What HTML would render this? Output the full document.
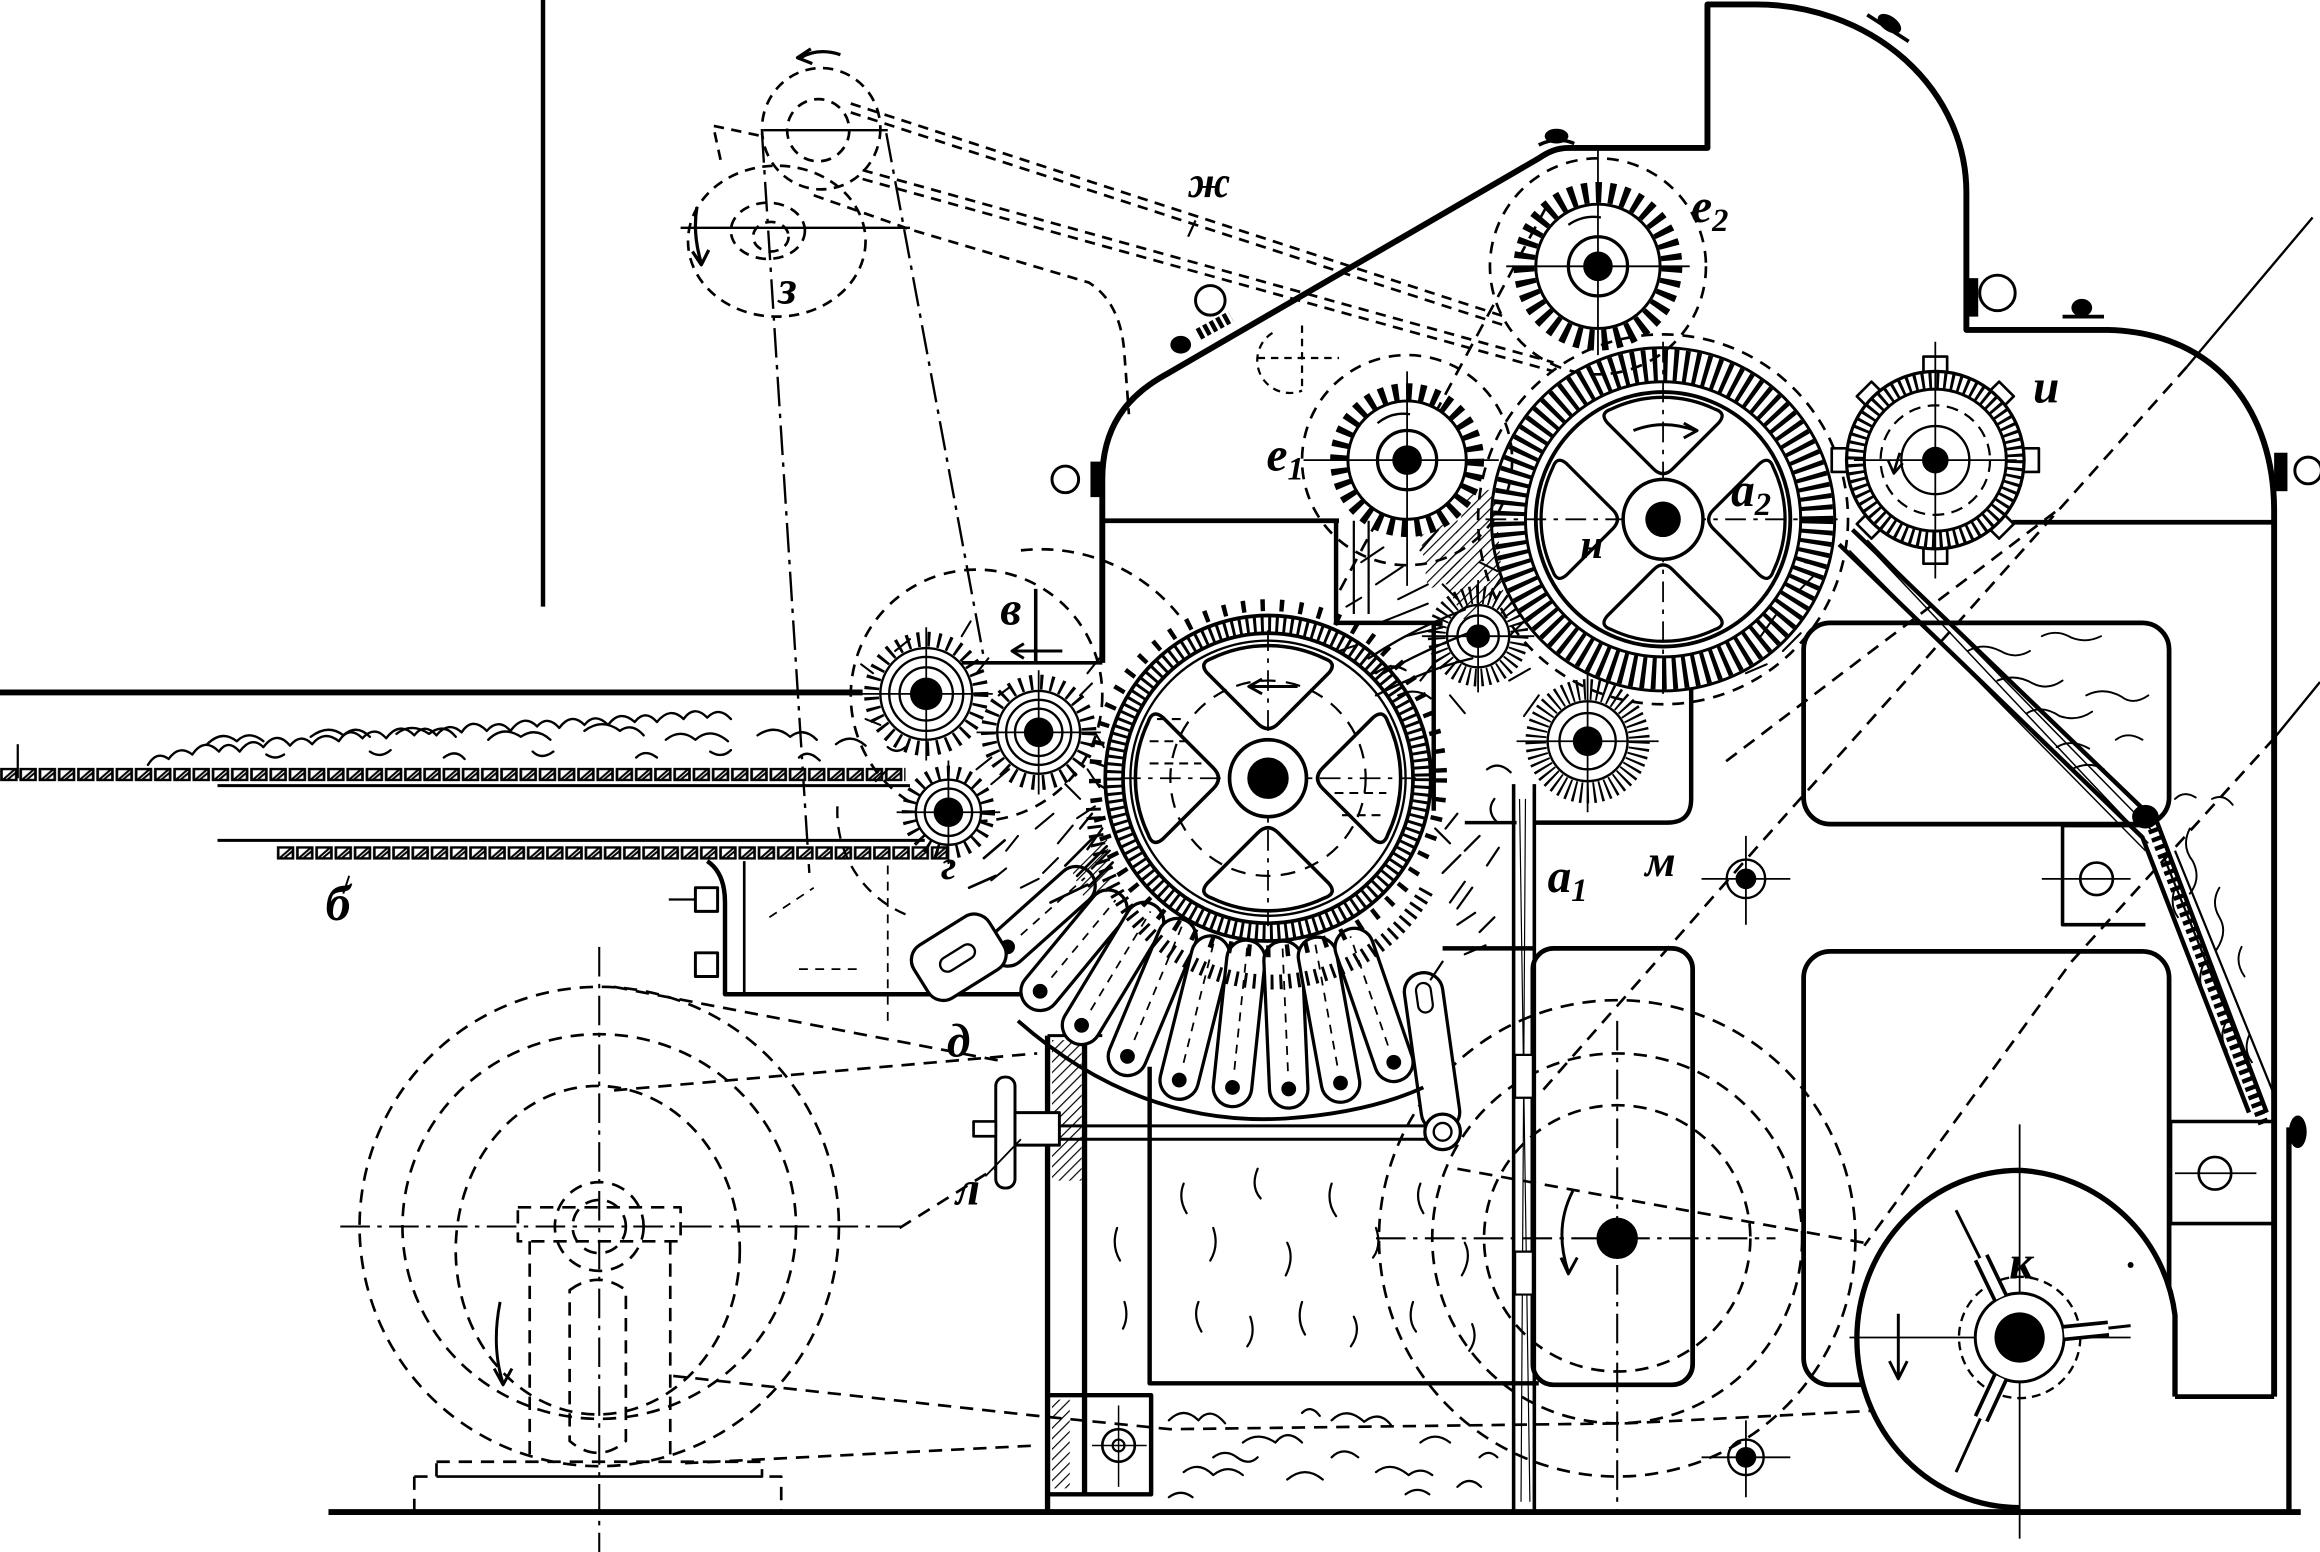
<!DOCTYPE html>
<html><head><meta charset="utf-8"><style>html,body{margin:0;padding:0;background:#fff}svg{display:block}</style></head>
<body>
<svg width="2320" height="1552" viewBox="0 0 1568 1049" preserveAspectRatio="none" xmlns="http://www.w3.org/2000/svg">
<defs>
<pattern id="lat" width="13" height="9" patternUnits="userSpaceOnUse"><rect x="1" y="0.7" width="10" height="7.6" fill="#fff" stroke="#000" stroke-width="1.8"/><path d="M2,8 L10,1 M5,8 L11,3" stroke="#000" stroke-width="1.4"/></pattern>
<pattern id="hat" width="5" height="5" patternUnits="userSpaceOnUse" patternTransform="rotate(45)"><line x1="0" y1="0" x2="0" y2="5" stroke="#000" stroke-width="1.6"/></pattern>
<path id="win" d="M-7,-37 L-41,-71 Q-47,-78 -38,-81 A88 88 0 0 1 38,-81 Q47,-78 41,-71 L7,-37 Q0,-30 -7,-37 Z"/>
</defs>
<rect width="1568" height="1049" fill="#fff"/>
<g fill="none" stroke="#000" stroke-linecap="butt" stroke-linejoin="round">

<!-- top-left vertical -->
<path d="M367,0 V410" stroke-width="3"/>

<!-- top-left pulleys -->
<g stroke-width="1.8" stroke-dasharray="7 5">
<ellipse cx="555" cy="87" rx="40" ry="41"/>
<circle cx="553" cy="88" r="21"/>
<ellipse cx="525" cy="163" rx="60" ry="51"/>
<ellipse cx="519" cy="156" rx="25" ry="19"/>
<ellipse cx="521" cy="160" rx="12" ry="10"/>
<path d="M487,108 L482,85 L515,92"/>
<path d="M550,132 L615,155 L736,191 Q758,205 760,240 L763,280"/>
<path d="M575,70 L1020,215 M575,76 L1020,221"/>
<path d="M583,115 L1050,245 M583,121 L1050,251"/>
</g>
<path d="M516,88 H600 M460,154 H615" stroke-width="1.6"/>
<path d="M515,90 L547,590 M599,90 L665,445" stroke-width="1.6" stroke-dasharray="20 5 3 5"/>
<path d="M568,37 Q553,32 541,39 M548,33 L539,39 L549,43" stroke-width="2.2"/>
<path d="M471,140 Q468,158 474,178 M468,170 L474,179 L479,169" stroke-width="2.2"/>
<path d="M808,149 L803,160" stroke-width="1.5"/>

<!-- feed table -->
<path d="M0,468 H583" stroke-width="4"/>
<g transform="translate(0,519)"><rect width="612" height="9" fill="url(#lat)" stroke="none"/></g>
<g transform="translate(187,572)"><rect width="455" height="9" fill="url(#lat)" stroke="none"/></g>
<path d="M147,531 H615 M147,568 H625" stroke-width="2"/>
<path d="M12,503 V526" stroke-width="1.5"/>
<path d="M236,592 L232,604" stroke-width="1.3"/>
<!-- cotton -->
<g stroke-width="1.6" stroke-linecap="round">
<path d="M100,517 q6,-10 14,-4 q7,-10 16,-3 q8,-12 18,-2 q6,-9 14,0 q8,-11 16,-3 q9,-12 18,-1 q7,-9 15,-1 q8,-10 18,-2 q7,-11 16,-2 q8,-9 16,0 q9,-12 19,-2 q7,-9 15,0 q8,-10 17,-2 q7,-11 17,-1 q8,-9 16,0 q9,-12 18,-3 q7,-8 15,1 q8,-11 17,-2 q7,-9 16,0 q8,-11 18,-2 q7,-9 15,0 q9,-11 18,-2 q7,-10 16,-1 q8,-8 16,1"/>
<path d="M140,503 q10,-10 20,-2 q8,-8 18,0 M210,498 q12,-9 22,-1 q9,-8 18,1 M268,496 q10,-8 22,0 q10,-8 18,2 M330,500 q10,-10 22,-2 q10,-7 20,2 M395,494 q12,-9 24,0 q8,-6 16,3 M450,500 q10,-8 20,0 q10,-9 22,1 M512,497 q12,-8 22,1 q9,-7 18,2 M565,503 q10,-8 20,1"/>
<path d="M180,510 q6,4 12,0 M250,508 q7,5 14,-1 M300,512 q8,-6 14,1 M360,508 q6,6 14,0 M430,512 q6,-6 14,0 M480,508 q8,5 14,-1 M540,512 q6,-6 14,2 M600,505 q6,5 12,0"/>
</g>

<!-- box under feed -->
<path d="M478,582 Q490,590 490,610 V672 H700" stroke-width="3"/>
<path d="M503,582 V672" stroke-width="1.8"/>
<rect x="470" y="600" width="15" height="16" stroke-width="2"/>
<rect x="470" y="644" width="15" height="16" stroke-width="2"/>
<path d="M452,608 H470" stroke-width="1.5"/>
<path d="M520,620 L550,600 M540,655 H580 M600,585 V690" stroke-width="1.2" stroke-dasharray="6 5"/>

<!-- motor wheel -->
<g stroke-width="1.8" stroke-dasharray="9 6">
<circle cx="405" cy="829" r="162"/>
<ellipse cx="405" cy="829" rx="133" ry="130"/>
<ellipse cx="404" cy="845" rx="96" ry="111"/>
<circle cx="405" cy="829" r="30"/>
<circle cx="405" cy="829" r="18"/>
<path d="M350,816 H460 V839 H350 Z M358,839 V986 M453,839 V986 M385,872 Q404,858 423,872 V974 Q404,990 385,974 Z M295,988 H515 V998 H295 Z M280,998 H528 V1022 M280,998 V1022"/>
<path d="M455,930 L701,957 L791,966 L1100,962 L1335,950 M463,989 L701,977"/>
<path d="M415,667 L676,717 M415,737 L701,712 M608,830 L672,790"/>
</g>
<path d="M230,829 H610 M405,640 V1049" stroke-width="1.4" stroke-dasharray="20 5 3 5"/>
<path d="M338,880 Q332,910 340,935 M334,925 L340,936 L346,925" stroke-width="2"/>

<!-- floor -->
<path d="M222,1022 H1555" stroke-width="4"/>

<!-- bottom middle wheel -->
<g stroke-width="1.8" stroke-dasharray="9 6">
<circle cx="1093" cy="837" r="161"/>
<circle cx="1093" cy="837" r="125"/>
<circle cx="1093" cy="837" r="90"/>
<path d="M985,790 L1260,840 M1478,248 L1188,572 L1040,740 M1537,499 L1400,650 L1260,842 M1389,346 L1162,518 M1045,140 L905,400"/>
</g>
<path d="M930,837 H1200 M1093,690 V1022" stroke-width="1.4" stroke-dasharray="20 5 3 5"/>
<circle cx="1093" cy="837" r="14" fill="#000" stroke="none"/>
<path d="M1063,805 Q1050,830 1060,860 M1055,850 L1060,861 L1066,850" stroke-width="2"/>
<path d="M1563,147 L1478,248 M1568,461 L1537,499" stroke-width="1.6"/>

<!-- housing -->
<path d="M745,448 V324 C745,290 760,268 790,252 L1040,107 C1046,103 1052,100 1060,100 H1154 V3 H1187 A142 127 0 0 1 1329,130 V223 H1425 C1500,225 1537,280 1537,345 V944" stroke-width="4"/>
<path d="M745,352 H905 M1360,353 H1537" stroke-width="3.2"/>
<path d="M650,448 H745 M700,398 V448" stroke-width="2.4"/>
<path d="M903,352 V421 H975 M969,421 V548" stroke-width="3"/>
<path d="M915,352 V415 M925,352 V415" stroke-width="1.5"/>
<path d="M1143,458 V540 Q1143,556 1127,556 H1037" stroke-width="3"/>
<path d="M990,556 H1025" stroke-width="2.4"/>
<rect x="1219" y="421" width="247" height="136" rx="18" stroke-width="3.2"/>
<rect x="1219" y="643" width="247" height="293" rx="18" stroke-width="3.2"/>
<rect x="1036" y="641" width="108" height="295" rx="14" stroke-width="3.2"/>
<path d="M975,641 H1036" stroke-width="3"/>
<path d="M777,721 V935 H1040" stroke-width="3"/>
<!-- post a1 -->
<path d="M1023,530 V1022 M1037,530 V1022" stroke-width="2.4"/>
<path d="M1027,540 L1034,1015 M1031,540 L1028,1015" stroke-width="0.8"/>
<rect x="1024" y="713" width="12" height="29" fill="#fff" stroke-width="1.5"/>
<rect x="1024" y="846" width="12" height="29" fill="#fff" stroke-width="1.5"/>
<circle cx="1180" cy="594" r="13" stroke-width="1.6"/><circle cx="1180" cy="594" r="7" fill="#000" stroke="none"/>
<path d="M1150,594 H1210 M1180,565 V625" stroke-width="1.2"/>
<circle cx="1180" cy="985" r="12" stroke-width="1.6"/><circle cx="1180" cy="985" r="7" fill="#000" stroke="none"/>
<path d="M1150,985 H1210 M1180,960 V1012" stroke-width="1.2"/>

<!-- lower-left frame -->
<path d="M708,700 V1022" stroke-width="3.6"/>
<path d="M733,700 V1010" stroke-width="3.6"/>
<path d="M708,700 H745" stroke-width="2"/>
<rect x="711" y="703" width="20" height="95" fill="url(#hat)" stroke="none"/>
<rect x="708" y="943" width="70" height="67" stroke-width="3"/>
<rect x="711" y="946" width="12" height="60" fill="url(#hat)" stroke="none"/>
<circle cx="756" cy="977" r="11" stroke-width="1.8"/><circle cx="756" cy="977" r="4" stroke-width="1.5"/>
<path d="M756,950 V1005 M738,977 H775" stroke-width="1"/>

<!-- rod + handwheel -->
<path d="M716,761 H968 M716,770 H968" stroke-width="2"/>
<rect x="673" y="728" width="13" height="75" rx="6" fill="#fff" stroke-width="2"/>
<rect x="686" y="752" width="30" height="22" fill="#fff" stroke-width="2"/>
<rect x="658" y="758" width="15" height="10" fill="#fff" stroke-width="1.8"/>
<path d="M666,795 L690,770" stroke-width="1.2"/>

<!-- right side -->
<path d="M1547,762 V1022" stroke-width="3.6"/>
<rect x="1467" y="758" width="70" height="69" stroke-width="2.4"/>
<circle cx="1497" cy="793" r="11" stroke-width="1.8"/>
<path d="M1470,793 H1525" stroke-width="1.2"/>
<path d="M1450,558 H1394 V625 H1450" stroke-width="2.4"/>
<circle cx="1417" cy="594" r="11" stroke-width="1.8"/>
<path d="M1380,594 H1440" stroke-width="1.2"/>
<!-- chute -->
<path d="M1243,368 L1448,566 L1520,752 M1252,358 L1458,556 L1532,752" stroke-width="3"/>
<path d="M1250,372 L1450,575 M1262,365 L1455,562 M1256,362 L1452,570" stroke-width="1"/>
<path d="M1462,578 L1532,752 M1470,575 L1537,740" stroke-width="1.5"/>
<path d="M1455,560 L1530,760" stroke-width="7" stroke-dasharray="3 3"/>
<ellipse cx="1450" cy="552" rx="9" ry="8" fill="#000" stroke="none"/>
<!-- chute fibers -->
<g stroke-width="1.3" stroke-linecap="round">
<path d="M1330,440 q10,-6 22,0 q10,6 20,0 M1350,460 q12,-5 24,2 q10,5 20,-2 M1370,482 q10,-6 22,2 q12,4 22,-3 M1390,505 q10,-6 22,1 M1410,470 q12,-6 24,1 q8,6 18,-1 M1380,430 q10,-5 20,1 q10,4 20,-1 M1400,520 q12,-6 22,0 M1430,500 q8,-6 18,0"/>
<path d="M1480,560 q-6,12 2,22 q6,12 -2,22 M1500,600 q-6,10 0,20 q6,10 -2,22 M1515,640 q-5,10 2,20 M1490,650 q-6,12 0,22 M1470,600 q-4,12 2,20 M1520,700 q-4,10 2,18 M1505,690 q-6,10 0,20 M1495,540 q8,-4 14,4 M1470,540 q6,-6 14,-1"/>
</g>

<!-- K fan housing -->
<path d="M1470,944 V889 A112 112 0 0 0 1365,791 A110 114 0 0 0 1255,905 A110 114 0 0 0 1365,1019" fill="#fff" stroke-width="3.6"/>
<path d="M1470,944 H1537" stroke-width="3.2"/>
<path d="M1250,904 H1440 M1365,760 V1040" stroke-width="1.2"/>
<circle cx="1365" cy="904" r="41" stroke-width="1.6" stroke-dasharray="6 4"/>
<circle cx="1365" cy="904" r="30" fill="#fff" stroke-width="2"/>
<circle cx="1365" cy="904" r="17" fill="#000" stroke="none"/>
<path d="M1342,858 L1322,818 M1342,951 L1322,995 M1395,901 L1440,896" stroke-width="2"/>
<path d="M1352,877 L1339,850 M1352,931 L1339,959 M1395,901 L1425,898" stroke="#000" stroke-width="11"/>
<path d="M1352,877 L1339,850 M1352,931 L1339,959 M1395,901 L1425,898" stroke="#fff" stroke-width="6"/>
<path d="M1283,888 V930 M1277,920 L1283,932 L1289,920" stroke-width="2"/>
<circle cx="1440" cy="855" r="2" fill="#000" stroke="none"/>

<!-- comb д fingers -->
<g stroke-width="2.2" fill="#fff">
<g transform="translate(681,640) rotate(48.2)"><rect x="-13" y="-75" width="26" height="88" rx="13"/><circle r="5" fill="#000" stroke="none"/><path d="M0,-12 V-70" fill="none" stroke-width="1.2" stroke-dasharray="6 5"/></g>
<g transform="translate(703,670) rotate(39.6)"><rect x="-13" y="-85" width="26" height="98" rx="13"/><circle r="5" fill="#000" stroke="none"/><path d="M0,-12 V-80" fill="none" stroke-width="1.2" stroke-dasharray="6 5"/></g>
<g transform="translate(731,693) rotate(31.2)"><rect x="-13" y="-95" width="26" height="108" rx="13"/><circle r="5" fill="#000" stroke="none"/><path d="M0,-12 V-90" fill="none" stroke-width="1.2" stroke-dasharray="6 5"/></g>
<g transform="translate(762,714) rotate(22.7)"><rect x="-13" y="-100" width="26" height="113" rx="13"/><circle r="5" fill="#000" stroke="none"/><path d="M0,-12 V-95" fill="none" stroke-width="1.2" stroke-dasharray="6 5"/></g>
<g transform="translate(797,730) rotate(14.1)"><rect x="-13" y="-100" width="26" height="113" rx="13"/><circle r="5" fill="#000" stroke="none"/><path d="M0,-12 V-95" fill="none" stroke-width="1.2" stroke-dasharray="6 5"/></g>
<g transform="translate(833,735) rotate(6)"><rect x="-13" y="-100" width="26" height="113" rx="13"/><circle r="5" fill="#000" stroke="none"/><path d="M0,-12 V-95" fill="none" stroke-width="1.2" stroke-dasharray="6 5"/></g>
<g transform="translate(871,736) rotate(-2.5)"><rect x="-13" y="-100" width="26" height="113" rx="13"/><circle r="5" fill="#000" stroke="none"/><path d="M0,-12 V-95" fill="none" stroke-width="1.2" stroke-dasharray="6 5"/></g>
<g transform="translate(906,732) rotate(-10.3)"><rect x="-13" y="-100" width="26" height="113" rx="13"/><circle r="5" fill="#000" stroke="none"/><path d="M0,-12 V-95" fill="none" stroke-width="1.2" stroke-dasharray="6 5"/></g>
<g transform="translate(942,718) rotate(-19)"><rect x="-13" y="-95" width="26" height="108" rx="13"/><circle r="5" fill="#000" stroke="none"/><path d="M0,-12 V-90" fill="none" stroke-width="1.2" stroke-dasharray="6 5"/></g>
<g transform="translate(648,647) rotate(-32)"><rect x="-30" y="-21" width="60" height="42" rx="12"/><rect x="-14" y="-5" width="26" height="10" rx="5" stroke-width="1.6"/></g>
<g transform="translate(968,712) rotate(-8)"><rect x="-13" y="-55" width="26" height="108" rx="13"/><rect x="-5" y="-48" width="10" height="20" rx="5" stroke-width="1.5"/></g>
</g>
<path d="M688,690 Q770,762 869,756 Q925,752 962,735" stroke-width="2.6"/>
<circle cx="975" cy="765" r="12" fill="#fff" stroke-width="2.2"/><circle cx="975" cy="765" r="6" stroke-width="1.6"/>
<path d="M739,546 A120 120 0 0 0 965,600" stroke-width="10" stroke-dasharray="2 4"/>

<!-- dashed circles around feed -->
<circle cx="660" cy="470" r="85" stroke-width="1.8" stroke-dasharray="8 6"/>
<path d="M690,372 A120 120 0 0 1 800,420" stroke-width="1.8" stroke-dasharray="8 6"/>
<path d="M566,545 A75 75 0 0 0 612,618" stroke-width="1.6" stroke-dasharray="8 6"/>

<!-- feed rollers -->
<g transform="translate(626,469)">
<circle r="37" stroke-width="10" stroke-dasharray="2 5"/>
<circle r="31" fill="#fff" stroke-width="1.6"/><circle r="25" stroke-width="1.6"/><circle r="18" stroke-width="1.6"/>
<circle r="11" fill="#000" stroke="none"/><path d="M-45,0 H45 M0,-45 V45" stroke-width="1.2"/></g>
<g transform="translate(702,495)">
<circle r="34" stroke-width="10" stroke-dasharray="2 5"/>
<circle r="28" fill="#fff" stroke-width="1.6"/><circle r="22" stroke-width="1.6"/><circle r="16" stroke-width="1.6"/>
<circle r="10" fill="#000" stroke="none"/><path d="M-42,0 H42 M0,-42 V42" stroke-width="1.2"/></g>
<g transform="translate(641,549)">
<circle r="27" stroke-width="9" stroke-dasharray="2 5"/>
<circle r="22" fill="#fff" stroke-width="1.6"/><circle r="16" stroke-width="1.6"/>
<circle r="10" fill="#000" stroke="none"/><path d="M-35,0 H35 M0,-35 V35" stroke-width="1.2"/></g>
<path d="M685,440 H718 M692,435 L684,440 L692,445" stroke-width="2"/>
<!-- hatch around feed rollers -->
<g stroke-width="1.4" stroke-linecap="round">
<path d="M660,520 l10,-8 M670,530 l12,-10 M720,530 l10,10 M735,520 l8,12 M740,545 l-12,8 M700,560 l12,-10 M715,570 l10,-12 M680,575 l8,-10 M600,520 l-8,8 M595,490 l-10,-4 M660,455 l8,-10 M675,470 l8,-6 M730,470 l8,-8 M740,495 l6,10 M670,595 l10,-8 M690,600 l12,-6 M705,590 l10,-10 M605,440 l10,-8 M590,455 l-8,-6 M650,430 l6,-10 M735,455 l8,-10"/>
<path d="M720,585 l20,-20 M728,592 l20,-20 M736,599 l16,-16 M710,610 l25,-12 M665,580 l14,-12 M655,600 l18,-8" stroke-width="1.8"/>
<path d="M745,560 l-10,14 M750,575 l-12,12 M742,530 l10,6 M738,515 l12,4 M730,560 l8,-10" stroke-width="1.6"/>
</g>
<path d="M725,590 L748,565 L752,600 L735,612 Z" fill="url(#hat)" stroke="none"/>

<!-- main drum -->
<g transform="translate(857,526)">
<circle r="117" stroke-width="8" stroke-dasharray="3 10"/>
<circle r="110" fill="#fff" stroke-width="2.5"/>
<circle r="104" stroke-width="11" stroke-dasharray="2 3"/>
<circle r="98" fill="#fff" stroke-width="2.5"/>
<circle r="93" stroke-width="1.6"/>
<g fill="#fff" stroke-width="2.4">
<use href="#win"/><use href="#win" transform="rotate(90)"/><use href="#win" transform="rotate(180)"/><use href="#win" transform="rotate(270)"/>
</g>
<circle r="66" stroke-width="1.5" stroke-dasharray="10 7"/>
<path d="M-100,0 H100 M0,-100 V100" stroke-width="1.2" stroke-dasharray="14 5 3 5"/>
<circle r="26" fill="#fff" stroke-width="2.5"/>
<circle r="14" fill="#000" stroke="none"/>
<path d="M20,-62 H-12 M-4,-67 L-13,-62 L-4,-57" stroke-width="2"/>
<path d="M-80,-10 H-45 M-80,-25 H-50 M-75,-40 H-55 M45,10 H80 M50,25 H80" stroke-width="1.4" stroke-dasharray="6 4"/>
</g>

<!-- small roller near H -->
<g transform="translate(999,430)">
<circle r="28" stroke-width="12" stroke-dasharray="1.5 3"/>
<circle r="21" fill="#fff" stroke-width="1.6"/><circle r="14" stroke-width="1.6"/>
<circle r="8" fill="#000" stroke="none"/><path d="M-38,0 H38 M0,-38 V38" stroke-width="1.2"/></g>
<!-- M roller -->
<g transform="translate(1073,501)">
<circle r="35" stroke-width="14" stroke-dasharray="1.5 3"/>
<circle r="27" fill="#fff" stroke-width="1.6"/><circle r="19" stroke-width="1.6"/>
<circle r="10" fill="#000" stroke="none"/><path d="M-48,0 H48 M0,-48 V48" stroke-width="1.2"/></g>

<!-- gear a2 -->
<g transform="translate(1124,351)">
<circle r="125" stroke-width="1.8" stroke-dasharray="8 6"/>
<circle r="116" fill="#fff" stroke-width="2"/>
<circle r="104" stroke-width="22" stroke-dasharray="3 4"/>
<circle r="93" stroke-width="2"/>
<circle r="86" fill="#fff" stroke-width="2.6"/>
<g fill="#fff" stroke-width="2.4">
<use href="#win" transform="scale(0.92)"/><use href="#win" transform="rotate(90) scale(0.92)"/><use href="#win" transform="rotate(180) scale(0.92)"/><use href="#win" transform="rotate(270) scale(0.92)"/>
</g>
<path d="M-120,0 H120 M0,-120 V120" stroke-width="1.2" stroke-dasharray="14 5 3 5"/>
<circle r="27" fill="#fff" stroke-width="2.4"/>
<circle r="12" fill="#000" stroke="none"/>
<path d="M-20,-60 Q0,-68 22,-60 M14,-65 L23,-60 L14,-55" stroke-width="2"/>
</g>

<!-- gear e2 -->
<g transform="translate(1080,180)">
<circle r="73" stroke-width="1.8" stroke-dasharray="8 6"/>
<circle r="50" stroke-width="14" stroke-dasharray="4 5"/>
<circle r="42" fill="#fff" stroke-width="2"/>
<circle r="20" stroke-width="2.2"/>
<circle r="10" fill="#000" stroke="none"/>
<path d="M-62,0 H62 M0,-82 V60" stroke-width="1.2"/>
<path d="M-20,-28 Q-10,-35 2,-33" stroke-width="1.6"/>
</g>
<!-- gear e1 -->
<g transform="translate(951,311)">
<circle r="71" stroke-width="1.8" stroke-dasharray="8 6"/>
<circle r="46" stroke-width="12" stroke-dasharray="4 5"/>
<circle r="40" fill="#fff" stroke-width="2"/>
<circle r="20" stroke-width="2.2"/>
<circle r="10" fill="#000" stroke="none"/>
<path d="M-70,0 H62 M0,-60 V85" stroke-width="1.2"/>
<path d="M-20,-25 Q-10,-33 2,-31" stroke-width="1.6"/>
</g>
<!-- small dashed pulley -->
<path d="M860,225 A22 22 0 0 0 880,264 M850,242 H905 M880,220 V262" stroke-width="1.5" stroke-dasharray="5 4"/>

<!-- roller и -->
<g transform="translate(1308,311)">
<g fill="#fff" stroke-width="1.8">
<rect x="-8" y="-70" width="16" height="12"/><rect x="-8" y="58" width="16" height="12"/>
<rect x="58" y="-8" width="12" height="16"/><rect x="-70" y="-8" width="12" height="16"/>
<g transform="rotate(45)"><rect x="-7" y="-68" width="14" height="10"/><rect x="-7" y="58" width="14" height="10"/></g>
<g transform="rotate(-45)"><rect x="-7" y="-68" width="14" height="10"/><rect x="-7" y="58" width="14" height="10"/></g>
</g>
<circle r="60" fill="#fff" stroke-width="2.2"/>
<circle r="54" stroke-width="11" stroke-dasharray="2 3"/>
<circle r="48" fill="#fff" stroke-width="2"/>
<circle r="37" stroke-width="1.5" stroke-dasharray="8 5"/>
<circle r="23" stroke-width="1.6"/>
<circle r="9" fill="#000" stroke="none"/>
<path d="M-55,0 H55 M0,-80 V80" stroke-width="1.2"/>
<path d="M-24,-5 L-28,8 M-32,0 L-28,9 L-22,2" stroke-width="1.8"/>
</g>

<!-- hatch / fiber between gears -->
<path d="M992,335 L1010,330 L1016,400 L990,420 L975,390 Z" fill="url(#hat)" stroke="none"/>
<path d="M960,362 L985,350 L988,392 L965,398 Z" fill="url(#hat)" stroke="none"/>
<g stroke-width="1.4" stroke-linecap="round">
<path d="M920,380 l15,-10 M930,395 l18,-12 M945,405 l20,-10 M960,372 l12,-14 M910,410 l10,-6 M975,395 l10,10 M1015,390 l-8,12 M1030,420 l-10,10 M1020,460 l14,-8 M1040,470 l-10,14 M980,470 l10,12 M960,460 l8,-10 M940,450 l-14,6 M905,440 l12,-4 M1000,380 l12,6 M935,420 l30,-12 M950,430 l25,-6"/>
<path d="M925,445 Q955,425 990,412 M935,455 Q965,438 1000,425 M930,470 Q965,452 995,445" stroke-width="1.6"/>
<path d="M930,455 q10,-8 20,-2 M945,470 q12,-6 22,2 M1005,520 q8,-6 16,2 M1010,540 q-6,8 2,16 M985,550 l-8,10 M990,575 l10,-10 M975,590 l12,-12 M980,610 l10,-14 M995,600 l-10,14 M1005,585 l8,-12 M985,625 l12,-8 M970,560 l10,10 M1000,630 l10,-10 M990,645 l14,-6 M975,650 l-8,12" stroke-width="1.5"/>
<path d="M1190,430 l10,-14 M1205,440 l12,-12 M1180,455 l14,-6 M1215,400 l10,-10 M1220,380 l10,2"/>
</g>

<!-- lower chamber fibers -->
<g stroke-width="1.5" stroke-linecap="round">
<path d="M800,800 q-4,10 2,20 M820,830 q4,12 -2,22 M850,790 q-5,12 2,20 M870,840 q5,10 -1,22 M900,800 q-4,12 3,22 M930,830 q4,12 -2,20 M960,800 q-4,10 2,20 M990,840 q5,10 -2,22 M810,880 q-4,10 2,20 M845,890 q4,12 -2,20 M880,880 q-4,12 2,22 M915,890 q5,10 -2,20 M955,880 q-4,12 2,20 M995,895 q4,10 -2,18 M755,830 q-4,12 2,22 M760,880 q3,10 -1,18"/>
<path d="M790,960 q10,-10 20,0 q8,-10 18,2 M840,975 q10,-8 22,0 q8,-10 18,0 M900,960 q10,-10 22,1 q10,-8 18,2 M960,975 q10,-8 20,0 M800,995 q10,-8 20,2 q10,-8 20,0 M870,1000 q12,-10 24,0 M930,995 q10,-8 22,2 q8,-6 16,0 M985,1005 q8,-8 16,0 M880,955 q6,-6 12,2 M820,985 q8,-6 16,0 q8,6 14,0 M900,985 q8,-8 18,0 M950,1010 q8,-6 16,0 M790,1012 q8,-6 16,0 M1000,985 q6,-6 12,0"/>
</g>

<!-- knobs / bolts -->
<circle cx="720" cy="324" r="9" fill="#fff" stroke-width="2"/>
<rect x="737" y="312" width="8" height="24" fill="#000" stroke="none"/>
<circle cx="818" cy="203" r="10" fill="#fff" stroke-width="2"/>
<path d="M810,226 L832,214" stroke-width="8" stroke-dasharray="3 2"/>
<ellipse cx="798" cy="233" rx="7" ry="6" fill="#000" stroke="none"/>
<ellipse cx="1052" cy="92" rx="8" ry="5" fill="#000" stroke="none"/>
<path d="M1040,98 Q1052,92 1064,97" stroke-width="2.4"/>
<ellipse cx="1277" cy="16" rx="9" ry="5" transform="rotate(35 1277 16)" fill="#000" stroke="none"/>
<path d="M1262,10 L1290,28" stroke-width="2.5"/>
<circle cx="1350" cy="198" r="12" fill="#fff" stroke-width="2"/>
<rect x="1329" y="188" width="8" height="26" fill="#000" stroke="none"/>
<ellipse cx="1407" cy="208" rx="7" ry="6" fill="#000" stroke="none"/>
<path d="M1394,214 H1422" stroke-width="2.6"/>
<circle cx="1560" cy="318" r="9" fill="#fff" stroke-width="2"/>
<rect x="1537" y="306" width="9" height="26" fill="#000" stroke="none"/>
<ellipse cx="1553" cy="765" rx="6" ry="11" fill="#000" stroke="none"/>
</g>

<!-- labels -->
<g font-family="Liberation Serif, DejaVu Serif, serif" font-style="italic" font-weight="bold" fill="#000">
<text x="803" y="133" font-size="30">ж</text>
<text x="526" y="205" font-size="32">з</text>
<text x="1143" y="150" font-size="32">е<tspan font-size="22" dy="6">2</tspan></text>
<text x="856" y="318" font-size="32">е<tspan font-size="22" dy="6">1</tspan></text>
<text x="1170" y="342" font-size="32">а<tspan font-size="22" dy="6">2</tspan></text>
<text x="1068" y="377" font-size="28">н</text>
<text x="1374" y="272" font-size="32">и</text>
<text x="676" y="422" font-size="32">в</text>
<text x="220" y="622" font-size="34">б</text>
<text x="636" y="594" font-size="28">г</text>
<text x="640" y="714" font-size="32">д</text>
<text x="646" y="814" font-size="32">л</text>
<text x="1046" y="603" font-size="32">а<tspan font-size="22" dy="6">1</tspan></text>
<text x="1112" y="592" font-size="30">м</text>
<text x="1358" y="864" font-size="32">к</text>
</g>
</svg>
</body></html>
